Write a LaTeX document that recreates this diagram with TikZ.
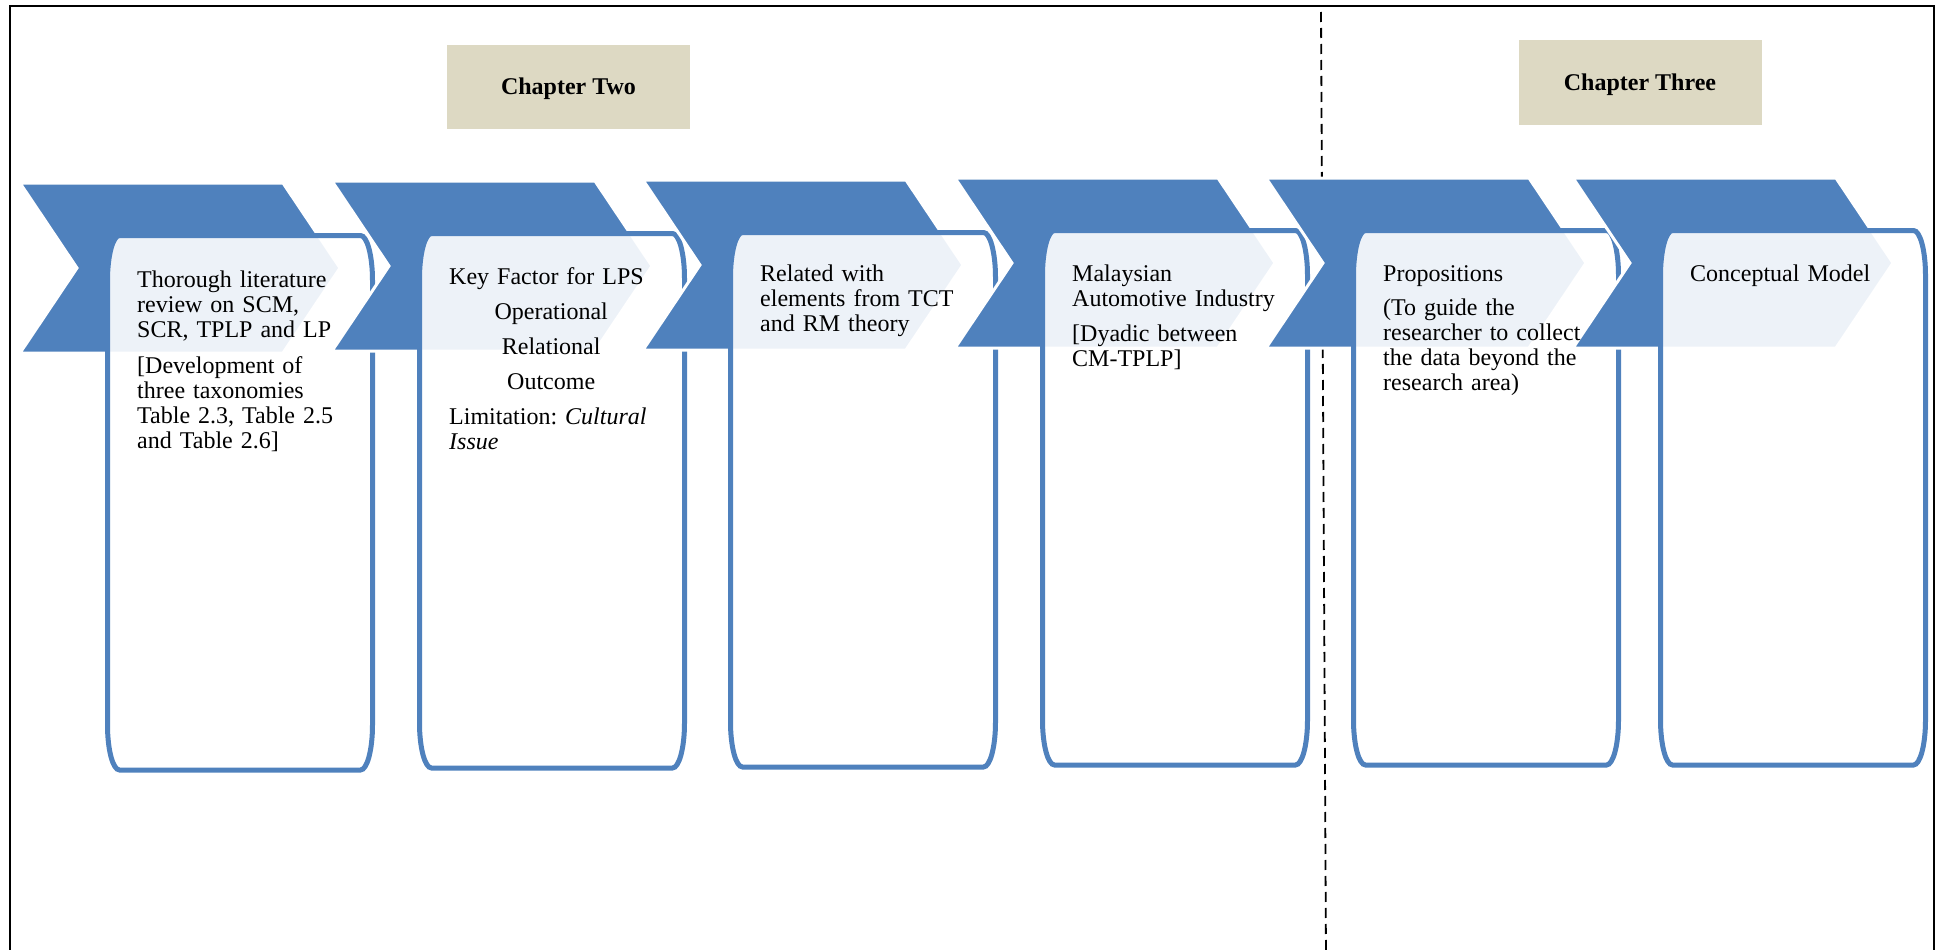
\documentclass[tikz,border=0pt]{standalone}
\usepackage{fontspec}
\setmainfont{Liberation Serif}
\definecolor{chevblue}{HTML}{4F81BD}
\definecolor{chaptan}{HTML}{DDD9C3}
\begin{document}
\begin{tikzpicture}[x=1pt,y=-1pt,
  chev/.style={fill=chevblue, draw=white, line width=3pt, line join=miter},
  panel/.style={fill=white, fill opacity=0.9, draw=chevblue, draw opacity=1, line width=5pt},
  body/.style={font=\fontsize{24}{25}\selectfont\frenchspacing, inner sep=0pt, anchor=base west,
               align=left, text width=#1},
  chapter/.style={fill=chaptan, font=\bfseries\fontsize{24}{28}\selectfont, inner sep=0pt,
                  text height=16pt, text depth=0pt, minimum width=243pt, minimum height=84pt},
  frame/.style={line width=2pt},
  divider/.style={line width=1.8pt, dash pattern=on 10pt off 6pt}]
\useasboundingbox (0,0) rectangle (1943,950);

% outer frame, open at the bottom
\draw[frame] (10,960) -- (10,6) -- (1934,6) -- (1934,960);

% chapter headings
\node[chapter] (ch2) at (568.5,87) {Chapter Two};
\node[chapter] (ch3) at (1640,82.5) {Chapter Three};

% boundary between the two chapters
\draw[divider] (1321,12) -- (1326,960);

% chevron + panel pairs, left to right
\foreach \cx/\ct in {20/183, 332/181, 643/180, 955/178, 1266/178, 1573/178}{
  \path[chev] (\cx,\ct) -- ++(263,0) -- ++(57,85) -- ++(-57,85) -- ++(-263,0) -- ++(57,-85) -- cycle;
  \path[panel] ({\cx+87.5},{\ct+97.5})
      arc[start angle=180, end angle=90, x radius=12pt, y radius=45pt]
      -- ({\cx+340.5},{\ct+52.5})
      arc[start angle=90, end angle=0, x radius=12pt, y radius=45pt]
      -- ({\cx+352.5},{\ct+542})
      arc[start angle=0, end angle=-90, x radius=12pt, y radius=45pt]
      -- ({\cx+99.5},{\ct+587})
      arc[start angle=270, end angle=180, x radius=12pt, y radius=45pt]
      -- cycle;
}

% panel texts
\node[body=240pt] (t1) at (137,287) {Thorough literature\\review on SCM,\\SCR, TPLP and LP\\[11pt][Development of\\three taxonomies\\Table 2.3, Table 2.5\\and Table 2.6]};
\node[body=204pt] (t2) at (449,284) {Key Factor for LPS\\[10pt]\makebox[\linewidth]{Operational}\\[10pt]\makebox[\linewidth]{Relational}\\[10pt]\makebox[\linewidth]{Outcome}\\[10pt]Limitation: \textit{Cultural}\\\textit{Issue}};
\node[body=240pt] (t3) at (760,281) {Related with\\elements from TCT\\and RM theory};
\node[body=240pt] (t4) at (1072,281) {Malaysian\\Automotive Industry\\[10pt][Dyadic between\\CM-TPLP]};
\node[body=240pt] (t5) at (1383,281) {Propositions\\[9pt](To guide the\\researcher to collect\\the data beyond the\\research area)};
\node[body=240pt] (t6) at (1690,281) {Conceptual Model};
\end{tikzpicture}
\end{document}
